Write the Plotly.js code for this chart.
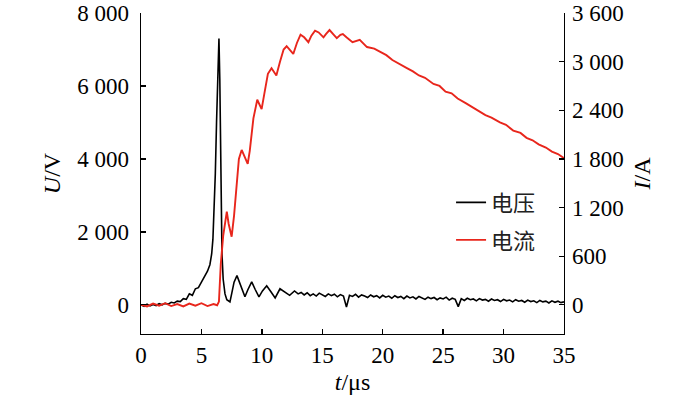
<!DOCTYPE html>
<html>
<head>
<meta charset="utf-8">
<script src="https://cdn.plot.ly/plotly-3.0.1.min.js"></script>
<style>html,body{margin:0;padding:0;background:#fff}#chart{width:700px;height:397px}</style>
</head>
<body>
<div id="chart"></div>
<script>
// Voltage U (V) vs time t (µs)
const tVolt = [0,0.25,0.5,0.75,1.0,1.25,1.5,1.75,2.0,2.25,2.5,2.75,3.0,3.25,3.5,3.75,4.0,4.25,4.5,4.75,5.0,5.25,5.5,
  5.7,5.85,5.95,6.05,6.15,6.25,6.35,6.45,6.52,6.58,6.64,6.7,6.8,6.95,7.1,7.25,7.36,7.5,7.7,7.94,8.15,8.4,8.6,8.85,9.16,9.45,9.76,10.05,10.4,10.75,11.1,11.5,11.9,12.3,12.7,
  13.0,13.25,13.5,13.75,14.0,14.25,14.5,14.75,
  15.0,15.25,15.5,15.75,16.0,16.25,16.5,16.75,
  17.0,17.25,17.5,17.75,18.0,18.25,18.5,18.75,
  19.0,19.25,19.5,19.75,20.0,20.25,20.5,20.75,
  21.0,21.25,21.5,21.75,22.0,22.25,22.5,22.75,
  23.0,23.25,23.5,23.75,24.0,24.25,24.5,24.75,
  25.0,25.25,25.5,25.75,26.0,26.25,26.5,26.75,
  27.0,27.25,27.5,27.75,28.0,28.25,28.5,28.75,
  29.0,29.25,29.5,29.75,30.0,30.25,30.5,30.75,
  31.0,31.25,31.5,31.75,32.0,32.25,32.5,32.75,
  33.0,33.25,33.5,33.75,34.0,34.25,34.5,34.75,
  35.0];
const uVolt = [0,-40,20,-30,10,-20,30,0,40,20,70,50,100,90,170,150,300,260,440,470,620,760,920,
  1100,1400,1800,2500,3600,5000,6300,7300,6200,4500,2600,1400,700,300,140,90,80,300,620,800,620,350,220,420,630,420,220,380,520,360,190,440,340,260,380,
  300,340,270,330,250,300,240,320,
  280,230,300,250,290,220,280,240,
  -60,260,230,290,210,270,240,200,
  270,220,250,190,260,210,240,180,
  250,200,230,170,240,190,220,160,
  230,200,150,210,170,200,140,190,
  160,210,130,180,150,-50,170,120,
  180,140,160,110,170,130,150,100,
  160,120,140,90,150,110,130,80,
  140,100,120,70,130,90,110,60,
  120,80,100,50,110,70,100,60,
  80];

// Current I (A) vs time t (µs)
const tCurr = [0,0.5,1.0,1.5,2.0,2.5,3.0,3.5,4.0,4.5,5.0,5.5,6.0,6.3,6.45,6.6,6.8,7.0,7.1,7.25,7.5,7.7,7.9,8.1,8.33,8.6,8.83,9.0,9.3,9.62,9.8,9.98,10.2,10.5,10.8,11.0,11.2,11.5,11.8,12.05,12.3,12.6,12.9,13.2,13.5,13.85,14.1,14.4,14.7,15.1,15.3,15.6,15.9,16.2,16.5,16.7,17.0,17.5,18.1,18.7,19.3,19.8,20.3,20.8,21.4,22.0,22.5,23.0,23.5,24.2,24.7,25.2,25.7,26.2,26.9,27.4,28.0,28.5,29.0,29.7,30.2,30.8,31.4,31.9,32.4,32.9,33.5,34.0,34.5,35.0];
const iCurr = [0,-20,15,-10,20,-15,10,-20,15,-10,20,-15,10,-5,40,500,850,1100,1150,1000,840,1100,1500,1800,1910,1820,1740,1900,2300,2530,2480,2415,2600,2850,2920,2880,2830,3000,3150,3190,3150,3095,3230,3333,3300,3240,3320,3382,3360,3300,3340,3390,3340,3290,3330,3340,3300,3240,3270,3180,3160,3115,3080,3020,2975,2920,2880,2830,2800,2725,2700,2630,2610,2545,2485,2440,2390,2340,2310,2250,2220,2150,2120,2060,2030,1980,1940,1890,1860,1810];

const yLeftTicks = [0,2000,4000,6000,8000];
const yRightTicks = [0,600,1200,1800,2400,3000,3600];
const xTicks = [0,5,10,15,20,25,30,35];

const serif = '"Liberation Serif","Times New Roman",serif';
const tickFont = {family: serif, size: 23, color: '#000'};
const titleFont = {family: serif, size: 24, color: '#000'};

const traces = [
  {x: tVolt, y: uVolt, type: 'scatter', mode: 'lines', name: '电压', legendgroup: 'u',
   line: {color: '#000000', width: 1.6}, yaxis: 'y'},
  {x: tCurr, y: iCurr, type: 'scatter', mode: 'lines', name: '电流', legendgroup: 'i',
   line: {color: '#e8261c', width: 1.9}, yaxis: 'y2'}
];

const layout = {
  width: 700, height: 397,
  margin: {l: 141, r: 136, t: 13, b: 63},
  paper_bgcolor: '#fff', plot_bgcolor: '#fff',
  separators: '. ',
  showlegend: true,
  legend: {x: 0.733, y: 0.475, xanchor: 'left', yanchor: 'top', tracegroupgap: 6,
           bgcolor: 'rgba(0,0,0,0)',
           font: {family: '"Noto Sans CJK SC",sans-serif', size: 22, color: '#222'}},
  xaxis: {range: [0, 35], tickvals: xTicks, ticks: 'inside', ticklen: 5, tickwidth: 1.3,
          tickcolor: '#000', showline: true, linecolor: '#000', linewidth: 1.3,
          showgrid: false, zeroline: false, tickfont: tickFont,
          title: {text: '<i>t</i>/μs', font: titleFont, standoff: 6}},
  yaxis: {range: [-800, 8000], tickvals: yLeftTicks, separatethousands: true,
          ticks: 'inside', ticklen: 5, tickwidth: 1.3, tickcolor: '#000',
          showline: true, linecolor: '#000', linewidth: 1.3, showgrid: false, zeroline: false,
          tickfont: tickFont, ticklabelstandoff: 6,
          title: {text: '<i>U</i>/V', font: titleFont, standoff: 10}},
  yaxis2: {range: [-360, 3600], tickvals: yRightTicks, separatethousands: true, overlaying: 'y', side: 'right',
           ticks: 'inside', ticklen: 5, tickwidth: 1.3, tickcolor: '#000',
           showline: true, linecolor: '#000', linewidth: 1.3, showgrid: false, zeroline: false,
           tickfont: tickFont, ticklabelstandoff: 2,
           title: {text: '<i>I</i>/A', font: titleFont, standoff: 10}}
};

Plotly.newPlot('chart', traces, layout, {staticPlot: true, displayModeBar: false});
</script>
</body>
</html>
